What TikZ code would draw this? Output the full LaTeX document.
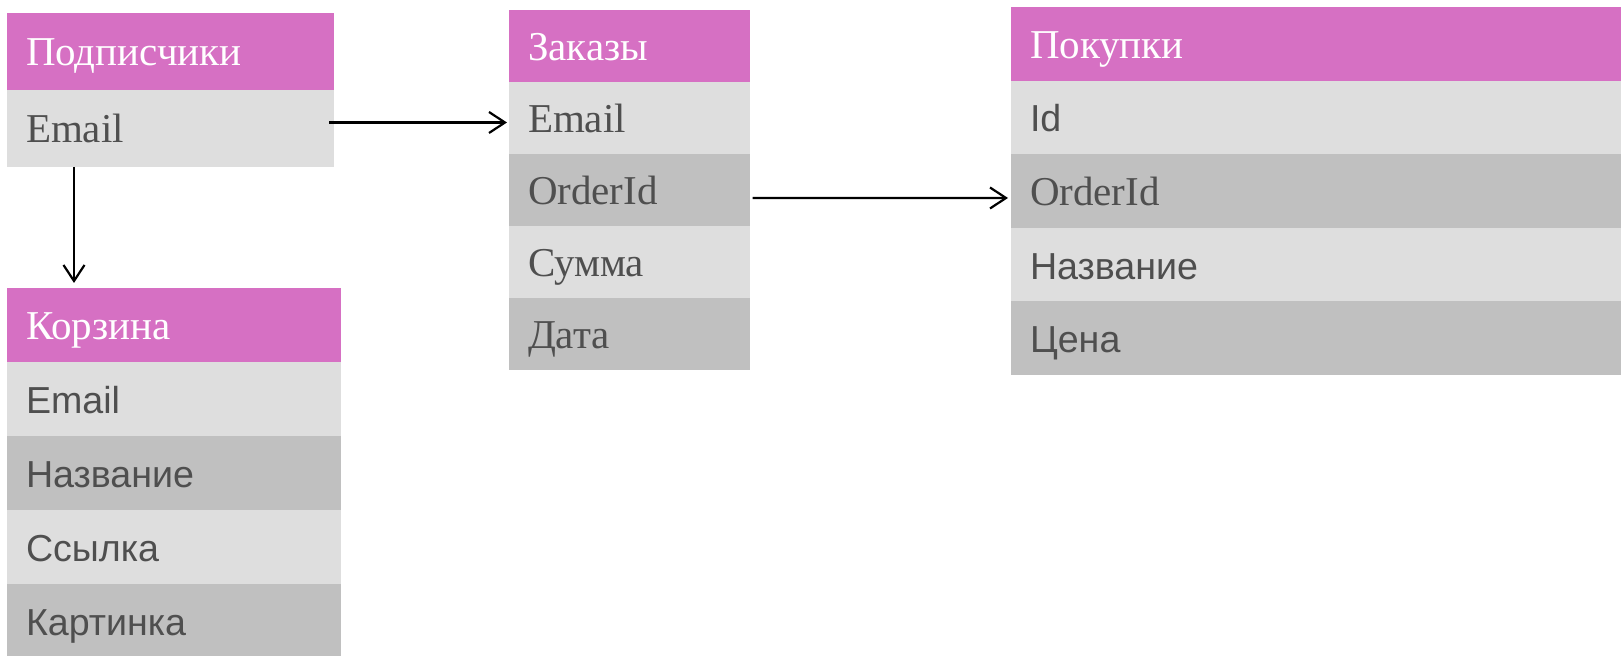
\documentclass[tikz,border=0pt]{standalone}
\usepackage{fontspec}
\setmainfont{Liberation Serif}
\newfontfamily\tblsans{Liberation Sans}
\usetikzlibrary{positioning,arrows.meta}
\definecolor{hdrpink}{HTML}{D670C3}
\definecolor{rowlight}{HTML}{DEDEDE}
\definecolor{rowdark}{HTML}{C0C0C0}
\definecolor{txtgray}{HTML}{4F4F4F}

\begin{document}
\begin{tikzpicture}[node distance=0pt, x=0.5pt, y=-0.5pt,
  cell/.style = {rectangle, outer sep=0pt, inner xsep=9.5pt, inner ysep=0pt, align=left,
    text height=14.5pt, text depth=0pt, text=txtgray, font=\fontsize{20.5}{20.5}\selectfont},
  head/.style = {cell, fill=hdrpink, text=white},
  lite/.style = {cell, fill=rowlight},
  dark/.style = {cell, fill=rowdark},
  sans/.style = {font=\tblsans\fontsize{18.8}{18.8}\selectfont},
  t1/.style = {text width=144.5pt, minimum height=38.5pt},
  t2/.style = {text width=148pt, minimum height=37pt},
  t3/.style = {text width=101.5pt, minimum height=36pt},
  t4/.style = {text width=291pt, minimum height=36.8pt},
  link/.style = {line width=1.1pt, -{Straight Barb[length=8pt,width=10.5pt]}}]
\useasboundingbox (0,0) rectangle (1621,656);

% Подписчики
\node[head, t1, anchor=north west] (p0) at (7,13) {Подписчики};
\node[lite, t1, below=of p0] (p1) {Email};

% Корзина
\node[head, t2, anchor=north west] (k0) at (7,288) {Корзина};
\node[lite, t2, sans, below=of k0] (k1) {Email};
\node[dark, t2, sans, below=of k1] (k2) {Название};
\node[lite, t2, sans, below=of k2] (k3) {Ссылка};
\node[dark, t2, sans, below=of k3] (k4) {Картинка};

% Заказы
\node[head, t3, anchor=north west] (z0) at (509,10) {Заказы};
\node[lite, t3, below=of z0] (z1) {Email};
\node[dark, t3, below=of z1] (z2) {OrderId};
\node[lite, t3, below=of z2] (z3) {Сумма};
\node[dark, t3, below=of z3] (z4) {Дата};

% Покупки
\node[head, t4, anchor=north west] (pk0) at (1011,7) {Покупки};
\node[lite, t4, sans, below=of pk0] (pk1) {Id};
\node[dark, t4, below=of pk1] (pk2) {OrderId};
\node[lite, t4, sans, below=of pk2] (pk3) {Название};
\node[dark, t4, sans, below=of pk3] (pk4) {Цена};

\draw[link] ([xshift=-2.5pt,yshift=3pt]p1.east) -- ([xshift=-1pt,yshift=-2.25pt]z1.west);
\draw[link] ([xshift=-48.25pt]p1.south) -- ([xshift=-50pt,yshift=2.5pt]k0.north);
\draw[link] ([xshift=1.3pt,yshift=-4pt]z2.east) -- ([xshift=-1.5pt,yshift=-3.5pt]pk2.west);

\end{tikzpicture}
\end{document}
